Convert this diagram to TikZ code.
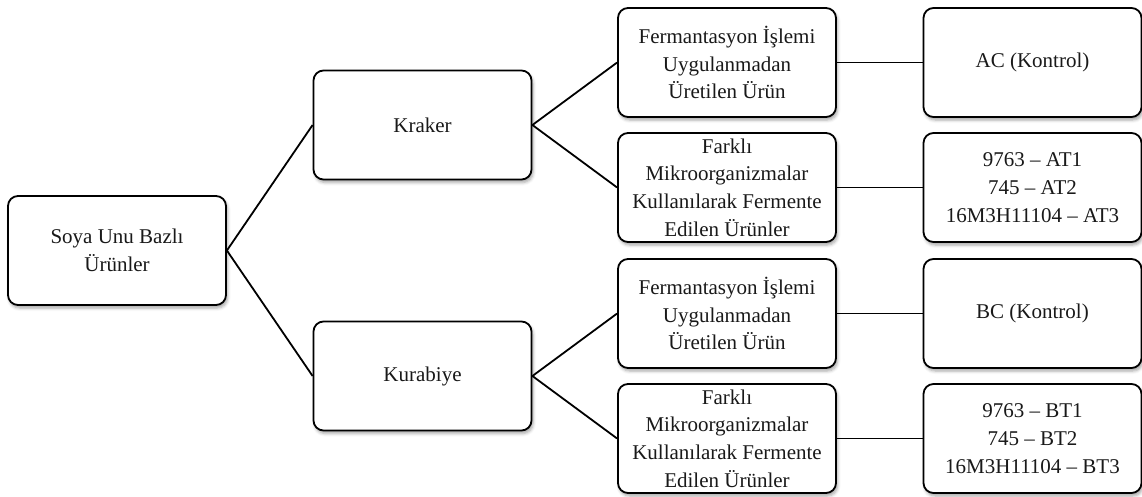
\documentclass[tikz,border=0pt]{standalone}
\usepackage{fontspec}
\setmainfont{Liberation Serif}
\usetikzlibrary{shadows.blur}
\begin{document}
\begin{tikzpicture}[x=1pt,y=-1pt,
  box/.style={draw=black, line width=1.8pt, fill=white, rounded corners=10pt,
    minimum width=218pt, minimum height=109pt, inner sep=0pt, align=center,
    text=black!90, font=\fontsize{21}{27.7}\selectfont,
    blur shadow={shadow xshift=1.5pt, shadow yshift=-3pt, shadow blur radius=3pt, shadow opacity=35}},
  link/.style={draw=black, line width=1.8pt}]
\useasboundingbox (0,0) rectangle (1142,496);
\node[box] (root) at (117,250.5) {Soya Unu Bazlı\\Ürünler};
\node[box] (kraker) at (422.5,125) {Kraker};
\node[box] (kurabiye) at (422.5,376) {Kurabiye};
\node[box] (f1) at (727,62.5) {Fermantasyon İşlemi\\Uygulanmadan\\Üretilen Ürün};
\node[box] (m1) at (727,187.5) {Farklı\\Mikroorganizmalar\\Kullanılarak Fermente\\Edilen Ürünler};
\node[box] (f2) at (727,313.5) {Fermantasyon İşlemi\\Uygulanmadan\\Üretilen Ürün};
\node[box] (m2) at (727,438.5) {Farklı\\Mikroorganizmalar\\Kullanılarak Fermente\\Edilen Ürünler};
\node[box] (ac) at (1032.5,62.5) {AC (Kontrol)};
\node[box] (at) at (1032.5,187.5) {9763 – AT1\\745 – AT2\\16M3H11104 – AT3};
\node[box] (bc) at (1032.5,313.5) {BC (Kontrol)};
\node[box] (bt) at (1032.5,438.5) {9763 – BT1\\745 – BT2\\16M3H11104 – BT3};
\draw[link] (root.east) -- (kraker.west);
\draw[link] (root.east) -- (kurabiye.west);
\draw[link] (kraker.east) -- (f1.west);
\draw[link] (kraker.east) -- (m1.west);
\draw[link] (kurabiye.east) -- (f2.west);
\draw[link] (kurabiye.east) -- (m2.west);
\draw[link] (f1.east) -- (ac.west);
\draw[link] (m1.east) -- (at.west);
\draw[link] (f2.east) -- (bc.west);
\draw[link] (m2.east) -- (bt.west);
\end{tikzpicture}
\end{document}
